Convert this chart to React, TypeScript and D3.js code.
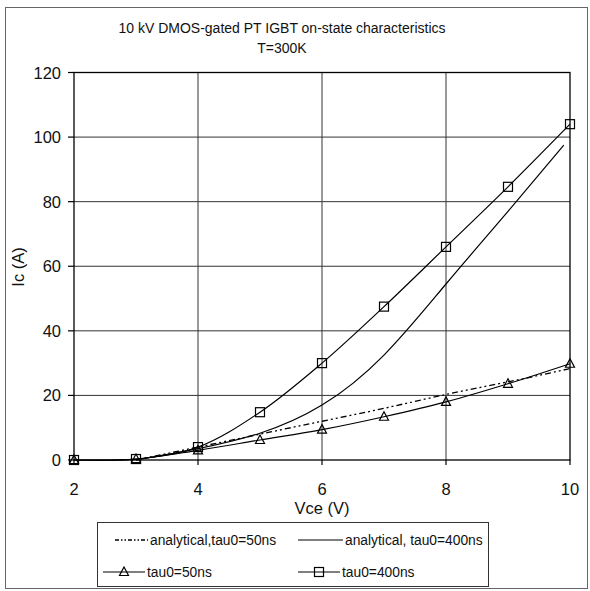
import React from "react";
import * as d3 from "d3";

// Measured on-state points (Vce in V, Ic in A)
const vceMeasured = [2, 3, 4, 5, 6, 7, 8, 9, 10];
const icTau50 = [0, 0.3, 3, 6.2, 9.4, 13.4, 18, 23.6, 29.8];
const icTau400 = [0, 0.3, 4, 14.8, 30, 47.5, 66, 84.6, 104];

// Analytical model curves
const vceAnalytical50 = [3, 4, 5, 6, 7, 8, 9, 10];
const icAnalytical50 = [0, 4, 8, 12, 16, 20.3, 24.2, 28.3];
const vceAnalytical400 = [3, 4, 5, 6, 7, 8, 9, 9.9];
const icAnalytical400 = [0, 3.5, 8.3, 17, 32.5, 54.5, 77, 97.5];

const xTicks = [2, 4, 6, 8, 10];
const yTicks = [0, 20, 40, 60, 80, 100, 120];

const titleLines = ["10 kV DMOS-gated PT IGBT on-state characteristics", "T=300K"];
const xLabel = "Vce (V)";
const yLabel = "Ic (A)";
const legendLabels = [
  "analytical,tau0=50ns",
  "analytical, tau0=400ns",
  "tau0=50ns",
  "tau0=400ns",
];

const FONT = "'Liberation Sans', Arial, Helvetica, sans-serif";

const x = d3.scaleLinear().domain([2, 10]).range([74, 570]);
const y = d3.scaleLinear().domain([0, 120]).range([460, 72.5]);

const zip = (xs: number[], ys: number[]) => xs.map((v, i) => [v, ys[i]] as [number, number]);

const measuredLine = d3
  .line<[number, number]>()
  .x((d) => x(d[0]))
  .y((d) => y(d[1]))
  .curve(d3.curveCatmullRom.alpha(0.5));

const modelLine = d3
  .line<[number, number]>()
  .x((d) => x(d[0]))
  .y((d) => y(d[1]))
  .curve(d3.curveNatural);

const DASH = "6,3,2,3,2,3";

function Square({ cx, cy }: { cx: number; cy: number }) {
  return <rect x={cx - 4.5} y={cy - 4.5} width={9} height={9} fill="none" stroke="#000" strokeWidth={1.2} />;
}

function Triangle({ cx, cy }: { cx: number; cy: number }) {
  const p = d3.path();
  p.moveTo(cx, cy - 5);
  p.lineTo(cx + 4.5, cy + 3.5);
  p.lineTo(cx - 4.5, cy + 3.5);
  p.closePath();
  return <path d={p.toString()} fill="none" stroke="#000" strokeWidth={1.2} />;
}

export default function App() {
  const [x0, x1] = x.range();
  const [y0, y1] = y.range();
  const tau50 = zip(vceMeasured, icTau50);
  const tau400 = zip(vceMeasured, icTau400);
  const ana50 = zip(vceAnalytical50, icAnalytical50);
  const ana400 = zip(vceAnalytical400, icAnalytical400);

  return (
    <svg
      width={590}
      height={591}
      style={{ position: "absolute", left: 0, top: 0, background: "#fff" }}
      fontFamily={FONT}
    >
      <rect x={0} y={0} width={590} height={591} fill="#fff" />
      {/* outer frame */}
      <rect x={5.5} y={7.5} width={582} height={581} fill="none" stroke="#666" strokeWidth={1} />

      {/* title */}
      {titleLines.map((t, i) => (
        <text key={t} x={282} y={33 + i * 20} textAnchor="middle" fontSize={14} fill="#111">
          {t}
        </text>
      ))}

      {/* grid */}
      {yTicks.filter((v) => v > 0 && v < 120).map((v) => (
        <line key={"gy" + v} x1={x0} x2={x1} y1={y(v)} y2={y(v)} stroke="#333" strokeWidth={1} />
      ))}
      {xTicks.filter((v) => v > 2 && v < 10).map((v) => (
        <line key={"gx" + v} x1={x(v)} x2={x(v)} y1={y0} y2={y1} stroke="#333" strokeWidth={1} />
      ))}
      {/* plot frame */}
      <rect x={x0} y={y1} width={x1 - x0} height={y0 - y1} fill="none" stroke="#000" strokeWidth={1.3} />

      {/* y axis ticks and labels */}
      {yTicks.map((v) => (
        <g key={"ty" + v}>
          <line x1={x0 - 6} x2={x0} y1={y(v)} y2={y(v)} stroke="#000" strokeWidth={1.2} />
          <text x={61} y={y(v) + 6} textAnchor="end" fontSize={16.5} fill="#111">
            {v}
          </text>
        </g>
      ))}
      {/* x axis ticks and labels */}
      {xTicks.map((v) => (
        <g key={"tx" + v}>
          <line x1={x(v)} x2={x(v)} y1={y0} y2={y0 + 5} stroke="#000" strokeWidth={1.2} />
          <text x={x(v)} y={495} textAnchor="middle" fontSize={16.5} fill="#111">
            {v}
          </text>
        </g>
      ))}
      <text x={322} y={514} textAnchor="middle" fontSize={16.5} fill="#111">
        {xLabel}
      </text>
      <text
        transform={`translate(24,267) rotate(-90)`}
        textAnchor="middle"
        fontSize={16.5}
        fill="#111"
      >
        {yLabel}
      </text>

      {/* series */}
      <path d={modelLine(ana50) ?? ""} fill="none" stroke="#000" strokeWidth={1.3} strokeDasharray={DASH} />
      <path d={modelLine(ana400) ?? ""} fill="none" stroke="#000" strokeWidth={1.2} />
      <path d={measuredLine(tau50) ?? ""} fill="none" stroke="#000" strokeWidth={1.2} />
      <path d={measuredLine(tau400) ?? ""} fill="none" stroke="#000" strokeWidth={1.2} />
      {tau50.map((d, i) => (
        <Triangle key={"t" + i} cx={x(d[0])} cy={y(d[1])} />
      ))}
      {tau400.map((d, i) => (
        <Square key={"s" + i} cx={x(d[0])} cy={y(d[1])} />
      ))}

      {/* legend */}
      <rect x={97.5} y={522.5} width={391} height={64} fill="#fff" stroke="#333" strokeWidth={1} />
      <g fontSize={13.8} fill="#111">
        <line x1={115} x2={148} y1={540} y2={540} stroke="#000" strokeWidth={1.3} strokeDasharray="4,2,1.5,2,1.5,2" />
        <text x={150} y={545}>{legendLabels[0]}</text>
        <line x1={298} x2={343} y1={540} y2={540} stroke="#000" strokeWidth={1.2} />
        <text x={345} y={545}>{legendLabels[1]}</text>
        <line x1={103} x2={145} y1={572} y2={572} stroke="#000" strokeWidth={1.2} />
        <Triangle cx={124} cy={572} />
        <text x={147} y={577}>{legendLabels[2]}</text>
        <line x1={298} x2={340} y1={572} y2={572} stroke="#000" strokeWidth={1.2} />
        <Square cx={319} cy={572} />
        <text x={342} y={577}>{legendLabels[3]}</text>
      </g>
    </svg>
  );
}
